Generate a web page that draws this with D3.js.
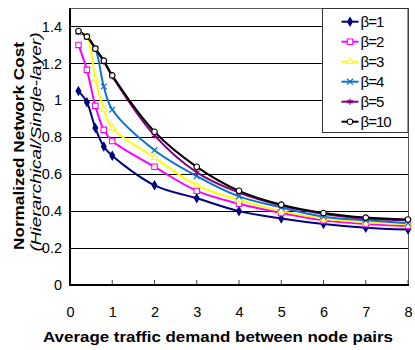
<!DOCTYPE html>
<html>
<head>
<meta charset="utf-8">
<script src="https://cdn.jsdelivr.net/npm/d3@7"></script>
<style>
html,body{margin:0;padding:0;background:#fff;}
svg{display:block;font-family:"Liberation Sans",Arial,sans-serif;}
</style>
</head>
<body>
<svg id="chart" width="415" height="350"></svg>
<script>
const xValues = [0.2, 0.4, 0.6, 0.8, 1, 2, 3, 4, 5, 6, 7, 8];
const beta1  = [1.05, 0.99, 0.85, 0.75, 0.70, 0.54, 0.47, 0.40, 0.36, 0.33, 0.31, 0.30];
const beta2  = [1.30, 1.165, 0.97, 0.84, 0.78, 0.64, 0.51, 0.44, 0.39, 0.35, 0.33, 0.32];
const beta3  = [1.37, 1.345, 1.115, 0.95, 0.85, 0.69, 0.54, 0.46, 0.40, 0.36, 0.34, 0.33];
const beta4  = [1.37, 1.345, 1.28, 1.075, 0.95, 0.73, 0.59, 0.48, 0.42, 0.37, 0.35, 0.335];
const beta5  = [1.37, 1.345, 1.28, 1.21, 1.13, 0.81, 0.61, 0.50, 0.43, 0.385, 0.36, 0.35];
const beta10 = [1.375, 1.345, 1.28, 1.215, 1.135, 0.83, 0.64, 0.51, 0.435, 0.39, 0.365, 0.355];
const seriesNames = ["β=1", "β=2", "β=3", "β=4", "β=5", "β=10"];
const xTicks = [0, 1, 2, 3, 4, 5, 6, 7, 8];
const yTicks = [0, 0.2, 0.4, 0.6, 0.8, 1, 1.2, 1.4];
const xTitle = "Average traffic demand between node pairs";
const yTitle1 = "Normalized Network Cost";
const yTitle2 = "(Hierarchical/Single-layer)";

const colors = ["#000080", "#FF00FF", "#FFFF00", "#0A72D0", "#800080", "#000000"];
const symbols = [d3.symbolDiamond, d3.symbolSquare, d3.symbolTriangle, d3.symbolX, d3.symbolAsterisk, d3.symbolCircle];
const filled = [true, false, false, false, false, false];
const symSize = [20, 30, 18, 24, 26, 24];

const series = [beta1, beta2, beta3, beta4, beta5, beta10].map((vals, i) => ({
  name: seriesNames[i],
  points: vals.map((v, j) => ({x: xValues[j], y: v}))
}));

const svg = d3.select("#chart");
const L = 70, R = 408, T = 8, B = 285;
const x = d3.scaleLinear().domain([0, 8]).range([L, R]);
const y = d3.scaleLinear().domain([0, 1.5]).range([B, T]);

svg.append("rect").attr("x", L).attr("y", T).attr("width", R - L).attr("height", B - T)
  .attr("fill", "#fff");

// gridlines
svg.append("g").selectAll("line").data(yTicks.filter(d => d > 0)).join("line")
  .attr("x1", L).attr("x2", R)
  .attr("y1", d => Math.round(y(d)) + 0.5).attr("y2", d => Math.round(y(d)) + 0.5)
  .attr("stroke", "#000").attr("stroke-width", 1);

// border top/right
svg.append("path")
  .attr("d", `M${L},${T + 0.5}H${R + 0.5}V${B}`)
  .attr("fill", "none").attr("stroke", "#555").attr("stroke-width", 1);

// y axis
const yAxis = d3.axisLeft(y).tickValues(yTicks).tickSize(0).tickPadding(8)
  .tickFormat(d => d3.format("")(+d.toFixed(1)));
const gy = svg.append("g").attr("transform", `translate(${L},0)`).call(yAxis);
gy.select(".domain").remove();
gy.selectAll("text").attr("font-size", 14.5).attr("fill", "#000")
  .attr("font-family", "Liberation Sans, Arial, sans-serif");
svg.append("line").attr("x1", L).attr("x2", L).attr("y1", T).attr("y2", B + 1)
  .attr("stroke", "#000").attr("stroke-width", 2);

// x axis
const xAxis = d3.axisBottom(x).tickValues(xTicks).tickSize(0).tickPadding(22)
  .tickFormat(d3.format("d"));
const gx = svg.append("g").attr("transform", `translate(0,${B})`).call(xAxis);
gx.select(".domain").remove();
gx.selectAll("text").attr("font-size", 14.5).attr("fill", "#000")
  .attr("font-family", "Liberation Sans, Arial, sans-serif");
svg.append("g").selectAll("line").data(xTicks.filter(d => d > 0)).join("line")
  .attr("x1", d => x(d)).attr("x2", d => x(d))
  .attr("y1", B).attr("y2", B - 5)
  .attr("stroke", "#444").attr("stroke-width", 1);
svg.append("line").attr("x1", L - 1).attr("x2", R + 1).attr("y1", B).attr("y2", B)
  .attr("stroke", "#000").attr("stroke-width", 2);

// lines
const line = d3.line().x(d => x(d.x)).y(d => y(d.y)).curve(d3.curveCatmullRom.alpha(0.5));
const gS = svg.append("g");
series.forEach((s, i) => {
  gS.append("path").datum(s.points)
    .attr("d", line).attr("fill", "none")
    .attr("stroke", colors[i]).attr("stroke-width", 2);
});
function drawMarker(g, i, cx, cy) {
  const sym = d3.symbol().type(symbols[i]).size(symSize[i]);
  const isStroke = (symbols[i] === d3.symbolX || symbols[i] === d3.symbolAsterisk);
  g.append("path").attr("d", sym())
    .attr("transform", `translate(${cx},${cy})`)
    .attr("fill", isStroke ? "none" : (filled[i] ? colors[i] : "#fff"))
    .attr("stroke", colors[i]).attr("stroke-width", isStroke ? 1.2 : 1.1);
}
series.forEach((s, i) => {
  s.points.forEach(p => drawMarker(gS, i, x(p.x), y(p.y)));
});

// legend
const lg = svg.append("g");
const lgX = 322.5, lgY = T + 0.5, lgW = R - 322.5, lgH = 124;
lg.append("rect").attr("x", lgX).attr("y", lgY).attr("width", lgW).attr("height", lgH)
  .attr("fill", "#fff").attr("stroke", "#333").attr("stroke-width", 1);
series.forEach((s, i) => {
  const ly = 21.7 + i * 20;
  lg.append("line").attr("x1", 341.5).attr("x2", 358.5).attr("y1", ly).attr("y2", ly)
    .attr("stroke", colors[i]).attr("stroke-width", 2);
  drawMarker(lg, i, 350, ly);
  lg.append("text").attr("x", 360.5).attr("y", ly).attr("dy", "0.36em")
    .attr("font-size", 15).attr("letter-spacing", "-1").text(s.name);
});

// titles
svg.append("text").attr("x", 218).attr("y", 342).attr("text-anchor", "middle")
  .attr("font-size", 15).attr("font-weight", "bold")
  .attr("textLength", 350).attr("lengthAdjust", "spacingAndGlyphs")
  .text(xTitle);
svg.append("text").attr("transform", "translate(24,146) rotate(-90)")
  .attr("text-anchor", "middle").attr("font-size", 15).attr("font-weight", "bold")
  .attr("textLength", 208).attr("lengthAdjust", "spacingAndGlyphs")
  .text(yTitle1);
svg.append("text").attr("transform", "translate(41,142) rotate(-90)")
  .attr("text-anchor", "middle").attr("font-size", 14).attr("font-style", "italic")
  .attr("textLength", 219).attr("lengthAdjust", "spacingAndGlyphs")
  .text(yTitle2);
</script>
</body>
</html>
